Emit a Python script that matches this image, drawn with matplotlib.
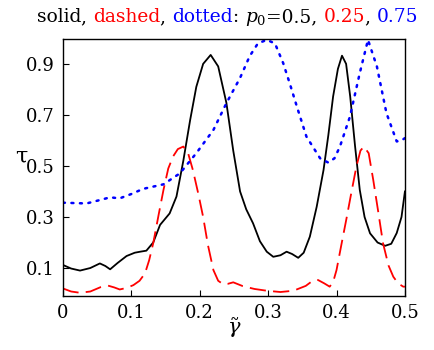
import matplotlib
matplotlib.use("Agg")
import matplotlib.pyplot as plt

plt.rcParams['font.family'] = ['DejaVu Serif']
plt.rcParams['mathtext.fontset'] = 'dejavuserif'

# p0 = 0.5 (solid)
g_solid = [0.0, 0.012, 0.025, 0.04, 0.054, 0.062, 0.069, 0.08, 0.093, 0.105, 0.113, 0.122,
           0.132, 0.142, 0.156, 0.166, 0.176, 0.186, 0.195, 0.205, 0.216, 0.227, 0.239,
           0.249, 0.259, 0.268, 0.278, 0.288, 0.298, 0.3075, 0.318, 0.327, 0.335, 0.344,
           0.352, 0.361, 0.371, 0.381, 0.388, 0.395, 0.402, 0.408, 0.414, 0.42, 0.427,
           0.434, 0.441, 0.449, 0.46, 0.471, 0.48, 0.488, 0.495, 0.5]
t_solid = [0.112, 0.098, 0.09, 0.1, 0.118, 0.108, 0.095, 0.12, 0.147, 0.16, 0.164, 0.168,
           0.2, 0.269, 0.314, 0.38, 0.52, 0.68, 0.81, 0.9, 0.935, 0.89, 0.747,
           0.56, 0.4, 0.33, 0.275, 0.205, 0.164, 0.144, 0.15, 0.164, 0.155, 0.14,
           0.16, 0.223, 0.34, 0.484, 0.62, 0.772, 0.88, 0.932, 0.9, 0.772, 0.58,
           0.406, 0.3, 0.236, 0.2, 0.187, 0.195, 0.237, 0.3, 0.4]

# p0 = 0.25 (dashed)
g_dash = [0.0, 0.012, 0.025, 0.04, 0.055, 0.066, 0.075, 0.083, 0.093, 0.103, 0.112, 0.12,
          0.126, 0.132, 0.14, 0.147, 0.154, 0.161, 0.168, 0.176, 0.183, 0.19, 0.198, 0.205,
          0.212, 0.22, 0.227, 0.234, 0.241, 0.249, 0.263, 0.28, 0.298, 0.318, 0.337, 0.355,
          0.365, 0.373, 0.382, 0.39, 0.395, 0.4, 0.407, 0.415, 0.422, 0.429, 0.435, 0.44,
          0.447, 0.4537, 0.461, 0.468, 0.476, 0.483, 0.49, 0.4975, 0.5]
t_dash = [0.02, 0.008, 0.003, 0.008, 0.025, 0.031, 0.024, 0.016, 0.022, 0.033, 0.05, 0.079,
          0.13, 0.197, 0.31, 0.406, 0.49, 0.537, 0.566, 0.576, 0.55, 0.484, 0.39, 0.3,
          0.19, 0.092, 0.05, 0.037, 0.038, 0.044, 0.029, 0.018, 0.011, 0.006, 0.011, 0.03,
          0.05, 0.053, 0.04, 0.027, 0.045, 0.092, 0.19, 0.3, 0.4, 0.497, 0.56, 0.576,
          0.55, 0.445, 0.32, 0.197, 0.11, 0.066, 0.04, 0.027, 0.027]

# p0 = 0.75 (dotted)
g_dot = [0.0, 0.0346, 0.052, 0.069, 0.083, 0.1, 0.117, 0.147, 0.171, 0.195, 0.22, 0.239,
         0.259, 0.273, 0.285, 0.298, 0.31, 0.322, 0.332, 0.342, 0.356, 0.376, 0.388,
         0.397, 0.405, 0.4196, 0.434, 0.446, 0.459, 0.473, 0.488, 0.495, 0.5]
t_dot = [0.356, 0.353, 0.365, 0.377, 0.373, 0.39, 0.41, 0.428, 0.471, 0.55, 0.641, 0.746,
         0.845, 0.93, 0.98, 0.994, 0.98, 0.903, 0.82, 0.733, 0.615, 0.53, 0.513,
         0.53, 0.576, 0.693, 0.864, 0.994, 0.89, 0.707, 0.596, 0.6, 0.609]

xticks = [0, 0.1, 0.2, 0.3, 0.4, 0.5]
yticks = [0.1, 0.3, 0.5, 0.7, 0.9]

fig = plt.figure(figsize=(4.34, 3.5), dpi=100)
ax = fig.add_axes([0.145, 0.154, 0.788, 0.735])

ax.plot(g_solid, t_solid, color='black', lw=1.3)
ax.plot(g_dash, t_dash, color='red', lw=1.3, dashes=(9, 4))
ax.plot(g_dot, t_dot, color='blue', lw=1.8, dashes=(0.8, 2.6), dash_capstyle='round')

ax.set_xlim(0, 0.5)
ax.set_ylim(-0.01, 0.998)
ax.set_xticks(xticks)
ax.set_xticklabels(['0', '0.1', '0.2', '0.3', '0.4', '0.5'])
ax.set_yticks(yticks)
ax.tick_params(direction='in', length=4, width=0.8, labelsize=13, pad=6)
for s in ax.spines.values():
    s.set_linewidth(1.0)

ax.set_xlabel(r'$\tilde{\gamma}$', fontsize=15)
ax.xaxis.set_label_coords(0.5, -0.075)
ax.set_ylabel(r'$\mathrm{\tau}$', fontsize=16, rotation=0)
ax.yaxis.set_label_coords(-0.12, 0.5)

# colored title built from pieces
pieces = [('solid', 'black'), (', ', 'black'), ('dashed', 'red'), (', ', 'black'),
          ('dotted', 'blue'), (': ', 'black'), (r'$p_0$', 'black'), ('=0.5, ', 'black'),
          ('0.25', 'red'), (', ', 'black'), ('0.75', 'blue')]
fig.canvas.draw()
r = fig.canvas.get_renderer()
x0 = 37
trans = fig.dpi_scale_trans
for txt, c in pieces:
    t = fig.text(x0 / 100.0, (350 - 22) / 100.0, txt, color=c, fontsize=13.4,
                 transform=trans, va='baseline', ha='left')
    bb = t.get_window_extent(renderer=r)
    x0 += bb.width

fig.savefig('out.png', dpi=100)
